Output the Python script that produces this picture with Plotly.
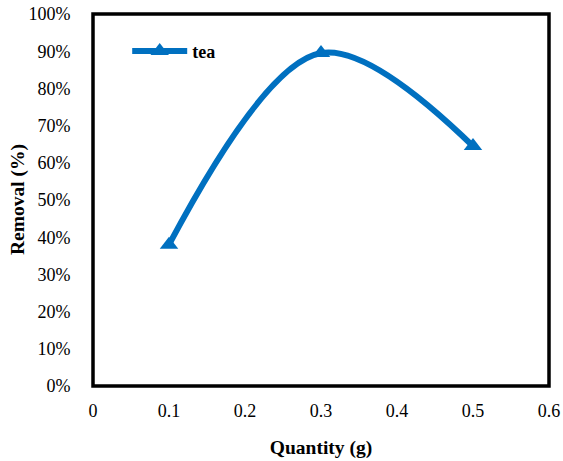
import plotly.graph_objects as go

quantity = [0.1, 0.3, 0.5]
removal = [38, 89.5, 64.5]
series_name = "tea"
x_ticks = [0, 0.1, 0.2, 0.3, 0.4, 0.5, 0.6]
x_tick_labels = ["0", "0.1", "0.2", "0.3", "0.4", "0.5", "0.6"]
y_ticks = [0, 10, 20, 30, 40, 50, 60, 70, 80, 90, 100]
y_tick_labels = [f"{v}%" for v in y_ticks]

FF = "Liberation Serif"

fig = go.Figure()
fig.add_trace(go.Scatter(
    x=quantity, y=removal, name=series_name, mode="lines+markers",
    line=dict(color="#0070C0", width=6, shape="spline", smoothing=1),
    marker=dict(symbol="triangle-up", size=16, color="#0070C0"),
))

fig.update_layout(
    width=563, height=461,
    margin=dict(l=93, r=14, t=14, b=75),
    paper_bgcolor="white", plot_bgcolor="white",
    font=dict(family=FF, size=18, color="black"),
    showlegend=True,
    legend=dict(x=0.075, y=0.9, xanchor="left", yanchor="middle",
                bgcolor="rgba(0,0,0,0)", itemwidth=55,
                font=dict(family=FF, size=18, color="black", weight="bold")),
    xaxis=dict(range=[0, 0.6], tickvals=x_ticks, ticktext=x_tick_labels,
               showgrid=False, zeroline=False, showline=False,
               ticks="outside", ticklen=8, tickcolor="rgba(0,0,0,0)",
               automargin=False,
               title=dict(text="<b>Quantity (g)</b>", font=dict(family=FF, size=19.5), standoff=20),
               tickfont=dict(family=FF, size=18)),
    yaxis=dict(range=[0, 100], tickvals=y_ticks, ticktext=y_tick_labels,
               showgrid=False, zeroline=False, showline=False,
               ticks="outside", ticklen=18, tickcolor="rgba(0,0,0,0)",
               automargin=False,
               tickfont=dict(family=FF, size=18)),
    annotations=[dict(text="<b>Removal (%)</b>", xref="paper", yref="paper",
                      x=-(93 - 18) / 456, y=0.5, xanchor="center", yanchor="middle",
                      textangle=-90, showarrow=False,
                      font=dict(family=FF, size=19.5, color="black"))],
)
fig.add_shape(type="rect", xref="x domain", yref="y domain", x0=0, x1=1, y0=0, y1=1,
              line=dict(color="black", width=3.5), layer="above")
fig.write_html("out.html", config={"displayModeBar": False},
               post_script="document.body.style.margin='0px';")
